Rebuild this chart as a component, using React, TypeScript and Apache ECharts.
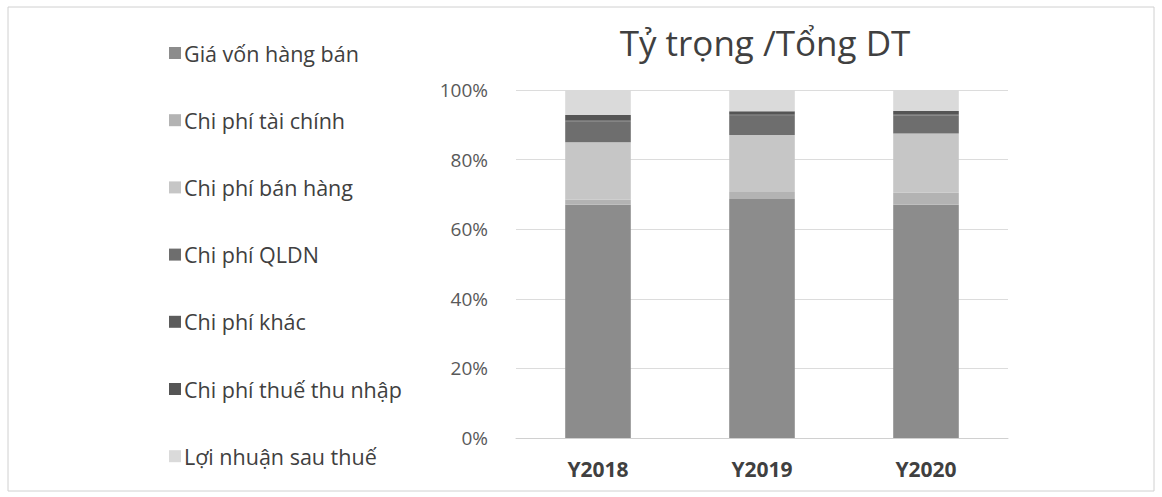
import React, { useEffect, useRef } from "react";
import * as echarts from "echarts";

const categories = ["Y2018", "Y2019", "Y2020"];
const seriesNames = [
  "Giá vốn hàng bán",
  "Chi phí tài chính",
  "Chi phí bán hàng",
  "Chi phí QLDN",
  "Chi phí khác",
  "Chi phí thuế thu nhập",
  "Lợi nhuận sau thuế",
];
const giaVon = [67.0, 68.7, 67.0];
const taiChinh = [1.5, 2.0, 3.5];
const banHang = [16.5, 16.4, 17.0];
const qldn = [6.0, 5.5, 5.2];
const khac = [0.3, 0.3, 0.3];
const thue = [1.5, 1.0, 1.0];
const loiNhuan = [7.2, 6.1, 6.0];
const seriesValues = [giaVon, taiChinh, banHang, qldn, khac, thue, loiNhuan];
const seriesColors = ["#8c8c8c", "#b3b3b3", "#c6c6c6", "#6e6e6e", "#5c5c5c", "#555555", "#dadada"];
const yTicks = [0, 20, 40, 60, 80, 100];

export default function App() {
  const ref = useRef<HTMLDivElement>(null);
  useEffect(() => {
    if (!ref.current) return;
    const chart = echarts.init(ref.current, undefined, { renderer: "svg" });
    const font = "'Open Sans', 'Noto Sans', sans-serif";
    chart.setOption({
      animation: false,
      backgroundColor: "#ffffff",
      textStyle: { fontFamily: font },
      title: {
        text: "Tỷ trọng /Tổng DT",
        left: 760,
        textAlign: "center",
        top: 20,
        textStyle: { fontSize: 35, fontWeight: "normal", color: "#404040", fontFamily: font },
      },
      graphic: [
        {
          type: "rect",
          shape: { x: 8, y: 7, width: 1146, height: 484 },
          style: { fill: "none", stroke: "#d0d0d0", lineWidth: 1 },
          silent: true,
        },
      ],
      legend: {
        orient: "vertical",
        left: 164,
        top: 36,
        itemWidth: 12,
        itemHeight: 12,
        itemGap: 43.2,
        itemStyle: { borderWidth: 0 },
        icon: "rect",
        data: seriesNames,
        textStyle: { fontSize: 21.5, color: "#404040", fontFamily: font, lineHeight: 24, padding: [0, 0, 0, -2] },
      },
      grid: { left: 516, right: 154, top: 90, bottom: 59 },
      xAxis: {
        type: "category",
        data: categories,
        axisLine: { lineStyle: { color: "#d0d0d0" } },
        axisTick: { show: false },
        axisLabel: { fontSize: 21, fontWeight: "bold", color: "#404040", margin: 20, fontFamily: font },
      },
      yAxis: {
        type: "value",
        min: 0,
        max: 100,
        interval: 20,
        axisLine: { show: false },
        axisTick: { show: false },
        splitLine: { lineStyle: { color: "#dcdcdc" } },
        axisLabel: {
          fontSize: 19,
          color: "#595959",
          margin: 28,
          fontFamily: font,
          formatter: (v: number) => (yTicks.includes(v) ? v + "%" : ""),
        },
      },
      series: seriesNames.map((name, i) => ({
        name,
        type: "bar",
        stack: "total",
        barWidth: "40%",
        data: seriesValues[i],
        itemStyle: { color: seriesColors[i] },
      })),
    });
    return () => chart.dispose();
  }, []);
  return (
    <div
      ref={ref}
      style={{ position: "fixed", left: 0, top: 0, width: 1162, height: 497, background: "#fff" }}
    />
  );
}
